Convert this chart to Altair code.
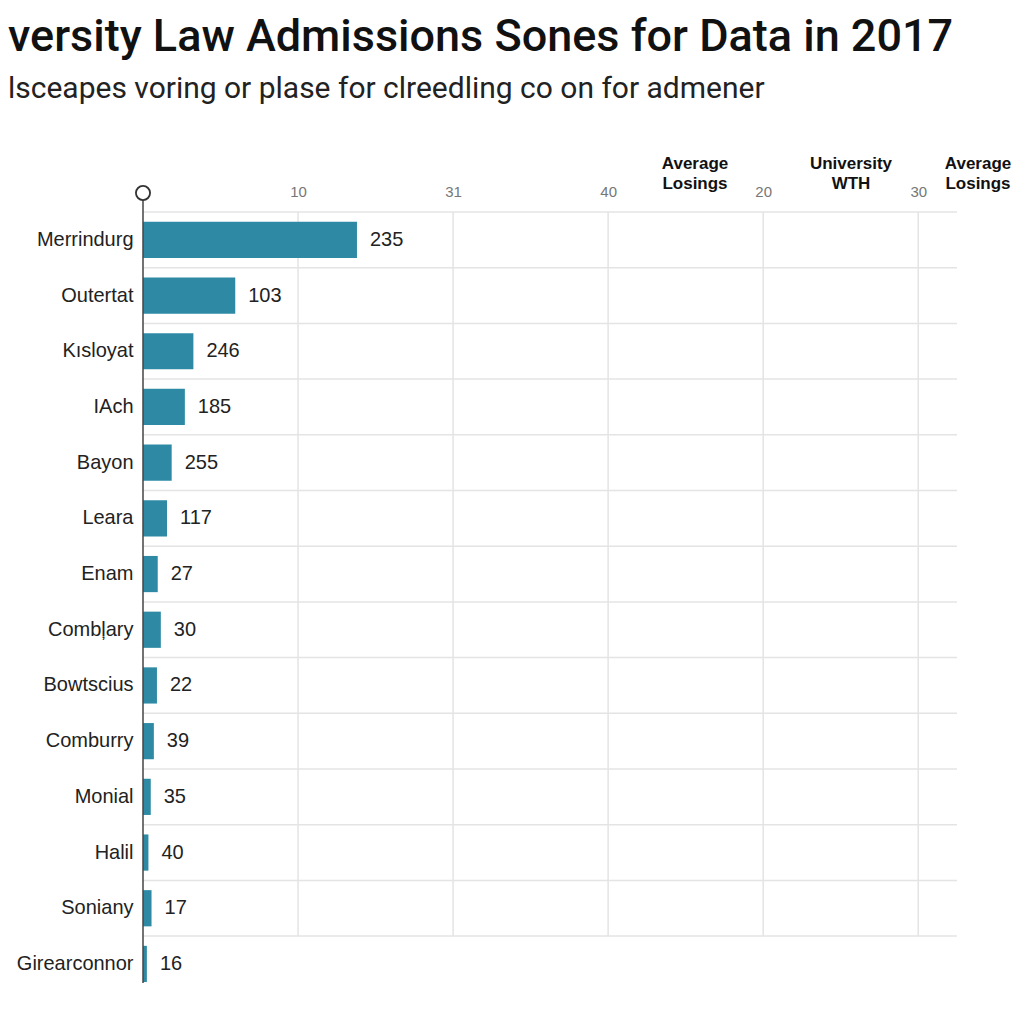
import altair as alt
import pandas as pd

universities = ["Merrindurg", "Outertat", "Kısloyat", "IAch", "Bayon", "Leara", "Enam",
                "Combļary", "Bowtscius", "Comburry", "Monial", "Halil", "Soniany", "Girearconnor"]
bar_values = [13.8, 5.95, 3.25, 2.7, 1.85, 1.55, 0.95, 1.15, 0.9, 0.7, 0.5, 0.35, 0.55, 0.25]
value_labels = ["235", "103", "246", "185", "255", "117", "27", "30", "22", "39", "35", "40", "17", "16"]
tick_values = [10, 20, 30, 40, 50]
tick_labels = ["10", "31", "40", "20", "30"]
header_texts = [["Average", "Losings"], ["University", "WTH"], ["Average", "Losings"]]
header_px = [552, 708, 835]

STEP = 55.7
W = 814
H = STEP * len(universities)
BAR_COLOR = "#2e8aa4"
GRID = "#e4e4e4"
FONT = "Liberation Sans"

df = pd.DataFrame({"name": universities, "value": bar_values, "label": value_labels})
ticks_df = pd.DataFrame({"t": tick_values})
one = pd.DataFrame({"a": [0]})

label_expr = " : ".join(f"datum.value == {v} ? '{l}'" for v, l in zip(tick_values, tick_labels)) + " : ''"

xscale = alt.Scale(domain=[0, 52.5], nice=False, zero=True)
yscale = alt.Scale(domain=universities, paddingInner=0.35, paddingOuter=0.175)

x_axis = alt.Axis(orient="top", values=[0] + tick_values, labelExpr=label_expr,
                  ticks=False, domain=False, grid=False, labelFontSize=15,
                  labelColor="#777", labelPadding=12, labelFont=FONT, title=None)
y_axis = alt.Axis(title=None, ticks=False, domain=False, grid=False, labelFontSize=20,
                  labelColor="#222", labelPadding=10, labelFont=FONT)

hgrid = alt.Chart(df).mark_rule(color=GRID, strokeWidth=1.5, yOffset=-STEP * 0.35 / 2).encode(
    y=alt.Y("name:N", scale=yscale, sort=universities, bandPosition=0, axis=y_axis)
)

vgrid = alt.Chart(ticks_df).mark_rule(color=GRID, strokeWidth=1.5).encode(
    x=alt.X("t:Q", scale=xscale, axis=x_axis),
    y=alt.value(0),
    y2=alt.value(13 * STEP),
)

bars = alt.Chart(df).mark_bar(color=BAR_COLOR).encode(
    x=alt.X("value:Q", scale=xscale, axis=x_axis),
    y=alt.Y("name:N", scale=yscale, sort=universities, axis=y_axis),
)

texts = alt.Chart(df).mark_text(align="left", baseline="middle", dx=13, fontSize=20,
                                font=FONT, color="#222").encode(
    x=alt.X("value:Q", scale=xscale, axis=x_axis),
    y=alt.Y("name:N", scale=yscale, sort=universities, axis=y_axis),
    text="label:N",
)

axis_line = alt.Chart(one).mark_rule(color="#444", strokeWidth=1.5).encode(
    x=alt.value(0), y=alt.value(-19), y2=alt.value(771)
)
circle = alt.Chart(one).mark_point(shape="circle", size=200, filled=True, fill="white",
                                   stroke="#333", strokeWidth=1.8, opacity=1).encode(
    x=alt.value(0), y=alt.value(-19)
)

headers = [
    alt.Chart(one).mark_text(align="center", baseline="middle", fontSize=17, fontWeight="bold",
                             font=FONT, color="#111", lineHeight=20).encode(
        x=alt.value(px), y=alt.value(-48), text=alt.value(t))
    for px, t in zip(header_px, header_texts)
]

chart = alt.layer(hgrid, vgrid, bars, texts, axis_line, circle, *headers).properties(
    width=W, height=H, autosize="none",
    padding={"left": 135, "top": 204, "right": 59, "bottom": 12},
    title=alt.TitleParams(
        text="versity Law Admissions Sones for Data in 2017",
        subtitle="lsceapes voring or plase for clreedling co on for admener",
        anchor="start", frame="group", dx=-135,
        font="Roboto", fontSize=45, fontWeight=500, color="#111",
        subtitleFont="Roboto", subtitleFontSize=30, subtitleColor="#222",
        subtitlePadding=14, offset=51,
    ),
).configure_view(stroke=None)

chart.save("out.html", embed_options={"renderer": "svg", "actions": False})
